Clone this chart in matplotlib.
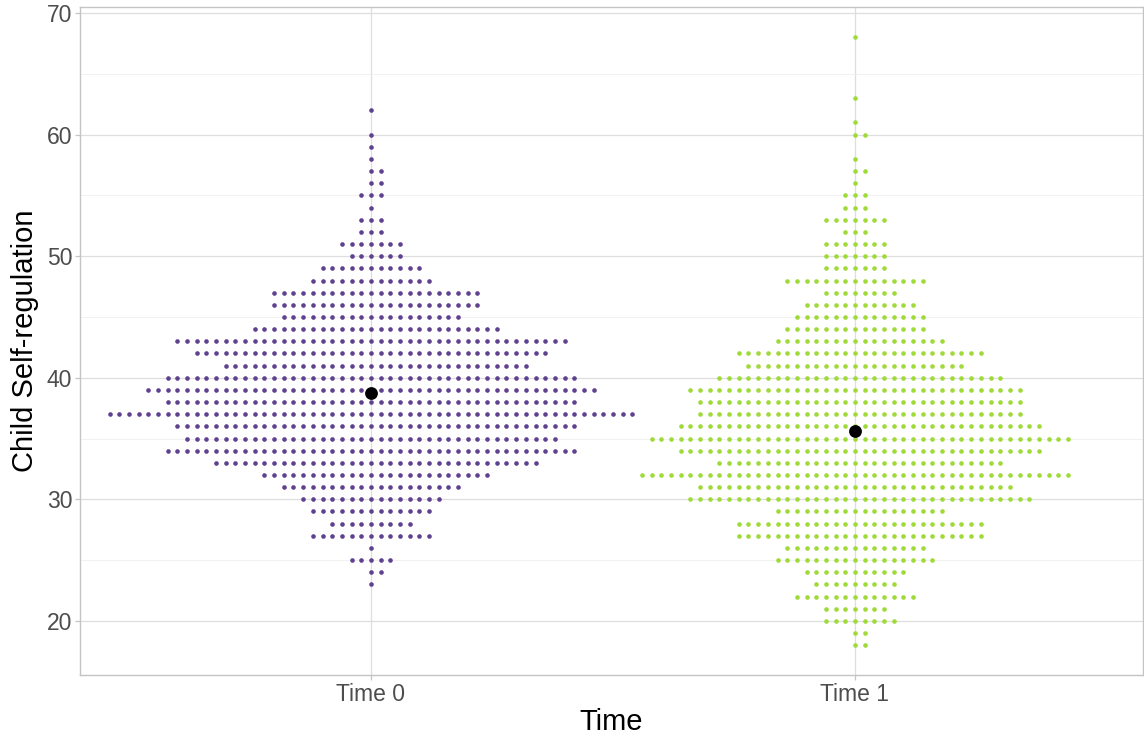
import numpy as np
import matplotlib
matplotlib.use("Agg")
import matplotlib.pyplot as plt

plt.rcParams['font.family'] = ['Liberation Sans', 'DejaVu Sans']

# values (integer scores) and number of children at each score
t0_values = [62, 61, 60, 59, 58, 57, 56, 55, 54, 53, 52, 51, 50, 49, 48, 47, 46, 45, 44, 43,
             42, 41, 40, 39, 38, 37, 36, 35, 34, 33, 32, 31, 30, 29, 28, 27, 26, 25, 24, 23]
t0_counts = [1, 0, 1, 1, 1, 2, 2, 3, 1, 3, 3, 7, 6, 11, 13, 22, 22, 19, 26, 41,
             37, 32, 43, 47, 43, 55, 42, 39, 43, 34, 24, 19, 15, 13, 9, 13, 1, 5, 2, 1]

t1_values = [68, 63, 61, 60, 58, 57, 56, 55, 54, 53, 52, 51, 50, 49, 48, 47, 46, 45, 44, 43,
             42, 41, 40, 39, 38, 37, 36, 35, 34, 33, 32, 31, 30, 29, 28, 27, 26, 25, 24, 23,
             22, 21, 20, 19, 18]
t1_counts = [1, 1, 1, 2, 1, 2, 1, 3, 3, 7, 3, 7, 7, 7, 15, 8, 12, 14, 15, 18,
             26, 23, 30, 35, 34, 34, 38, 44, 38, 30, 45, 33, 36, 18, 26, 26, 15, 17, 11, 9,
             13, 7, 8, 2, 2]

groups = ["Time 0", "Time 1"]
colors = ["#5f4190", "#a0da39"]
SPACING = 0.02


def swarm(center, values, counts):
    xs, ys = [], []
    for v, n in zip(values, counts):
        if n == 0:
            continue
        for k in range(-((n - 1) // 2), n // 2 + 1):
            xs.append(center + k * SPACING)
            ys.append(v)
    return np.array(xs), np.array(ys)


fig = plt.figure(figsize=(11.44, 7.38), dpi=100)
ax = fig.add_axes([80 / 1144, 63 / 738, 1063 / 1144, 668 / 738])

for i, (vals, cnts) in enumerate([(t0_values, t0_counts), (t1_values, t1_counts)]):
    xs, ys = swarm(i, vals, cnts)
    ax.scatter(xs, ys, s=11, color=colors[i], linewidths=0, zorder=3)
    mean = np.sum(np.array(vals) * np.array(cnts)) / np.sum(cnts)
    ax.scatter([i], [mean], s=85, color="black", linewidths=0, zorder=4)

ax.set_xlim(-0.601, 1.595)
ax.set_ylim(15.55, 70.5)
ax.set_xticks([0, 1])
ax.set_xticklabels(groups)
ax.set_yticks([20, 30, 40, 50, 60, 70])
ax.set_yticks([25, 35, 45, 55, 65], minor=True)

ax.grid(True, which="major", color="#dedede", linewidth=0.9, zorder=0)
ax.grid(True, which="minor", axis="y", color="#efefef", linewidth=0.6, zorder=0)
ax.set_axisbelow(True)

for sp in ax.spines.values():
    sp.set_color("#c4c4c4")
    sp.set_linewidth(1.0)

ax.tick_params(axis="both", which="major", length=3.5, width=0.9, color="#c4c4c4",
               labelsize=16.5, labelcolor="#4d4d4d", pad=2)
ax.tick_params(axis="y", which="minor", length=0)

ax.set_xlabel("Time", fontsize=21, labelpad=2)
ax.set_ylabel("Child Self-regulation", fontsize=21, labelpad=6)

fig.savefig("out.png", dpi=100, facecolor="white")
